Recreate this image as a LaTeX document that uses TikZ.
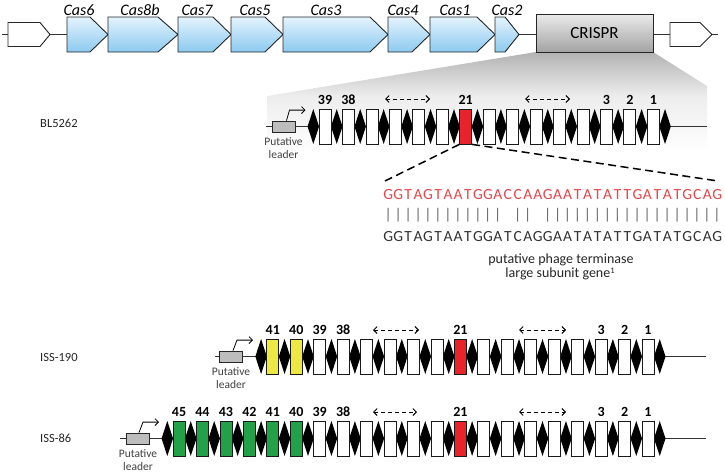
\documentclass[tikz,border=0pt]{standalone}
\usepackage{fontspec}
\setmainfont{Carlito}
\usetikzlibrary{arrows.meta}
\definecolor{genetop}{HTML}{E4F3FD}
\definecolor{genebot}{HTML}{8CCAF0}
\definecolor{spred}{HTML}{E8232B}
\definecolor{spyel}{HTML}{EEE842}
\definecolor{spgrn}{HTML}{22A148}
\definecolor{seqred}{HTML}{E2474B}
\definecolor{leadgray}{HTML}{BDBDBD}
\newcommand\gridseq[1]{\gridseqaux#1\relax}
\def\gridseqaux#1{\ifx#1\relax\else\makebox[9.97pt]{\if.#1\else#1\fi}\expandafter\gridseqaux\fi}
\newcommand\genearr[3]{\draw[genestyle] (#1,17) -- ({#2-#3},17) -- (#2,34.5) -- ({#2-#3},52) -- (#1,52) -- cycle;}
\newcommand\sprow[5]{%
  \foreach \k in {0,...,#3}
    \fill[black] ({#2+23.45*\k-5.75},#1) -- ({#2+23.45*\k},{#1-17.5}) -- ({#2+23.45*\k+5.75},#1) -- ({#2+23.45*\k},{#1+17.5}) -- cycle;
  \foreach \c [count=\i from 0] in {#5}
    \node[rep, fill=\c] (#4\i) at ({#2+11.725+23.45*\i},#1) {};
}
\begin{document}
\begin{tikzpicture}[x=1pt,y=-1pt,
  genestyle/.style={draw=black!85, line width=0.9pt, top color=genetop, bottom color=genebot},
  whitegene/.style={draw=black!85, line width=0.9pt, fill=white},
  caslab/.style={font=\fontsize{16}{16}\selectfont\itshape, inner sep=0pt},
  crisprbox/.style={draw=black!85, line width=0.9pt, top color=black!8, bottom color=black!36, minimum width=117pt, minimum height=38pt, inner sep=0pt, font=\fontsize{17}{17}\selectfont},
  rep/.style={draw=black!90, line width=0.8pt, minimum width=12pt, minimum height=35pt, inner sep=0pt},
  numlab/.style={font=\fontsize{14}{14}\selectfont\bfseries, inner sep=0pt, above=4pt},
  rowlab/.style={font=\fontsize{12.5}{13}\selectfont, anchor=west, text=black!85, inner sep=0pt},
  leadbox/.style={draw=black!85, fill=leadgray, line width=0.8pt, minimum width=23pt, minimum height=11pt, inner sep=0pt},
  leadtxt/.style={font=\fontsize{11.5}{13.5}\selectfont, align=center, text=black!75, inner sep=0pt, below=4.5pt},
  rowline/.style={line width=1pt, draw=black!80},
  bent/.style={-{Straight Barb[length=3.5pt,width=7pt]}, line width=0.8pt},
  gaparrow/.style={{Straight Barb[length=3.5pt,width=7pt]}-{Straight Barb[length=3.5pt,width=7pt]}, dash pattern=on 4pt off 3pt, line width=0.9pt},
  zoomline/.style={dash pattern=on 8pt off 4.5pt, line width=1.5pt},
  seqfont/.style={font=\fontsize{15.5}{16}\selectfont, anchor=west, inner sep=0pt},
  termtxt/.style={font=\fontsize{14}{14}\selectfont, text=black!85, inner sep=0pt, anchor=base}
]
\useasboundingbox (0,0) rectangle (725,474);

% ---- zoom panel ----
\begin{scope}
  \clip (536,52) -- (653,52) -- (707,86) -- (707,152) -- (267,152) -- (267,96) -- cycle;
  \shade[top color=black!30, bottom color=black!7] (260,52) rectangle (710,96);
  \shade[top color=black!7, bottom color=white] (260,96) rectangle (710,152);
\end{scope}

% ---- gene map ----
\coordinate (gl) at (2,34.5);
\coordinate (gr) at (718,34.5);
\draw[rowline, line width=0.9pt] (gl) -- (gr);
\draw[whitegene] (8,22.5) -- (40,22.5) -- (50,34.5) -- (40,46.5) -- (8,46.5) -- cycle;
\draw[whitegene] (670,22.5) -- (700,22.5) -- (712,34.5) -- (700,46.5) -- (670,46.5) -- cycle;
\genearr{67}{108}{18}
\genearr{108}{178}{20}
\genearr{178}{231}{18}
\genearr{231}{283}{18}
\genearr{283}{388}{18}
\genearr{388}{430}{18}
\genearr{430}{495}{18}
\genearr{495}{519}{14}
\node[caslab] (c6) at (79,10) {Cas6};
\node[caslab] (c8b) at (140,10) {Cas8b};
\node[caslab] (c7) at (197,10) {Cas7};
\node[caslab] (c5) at (255,10) {Cas5};
\node[caslab] (c3) at (326,10) {Cas3};
\node[caslab] (c4) at (403,10) {Cas4};
\node[caslab] (c1) at (455,10) {Cas1};
\node[caslab] (c2) at (507,10) {Cas2};
\node[crisprbox] (crispr) at (594.5,33) {CRISPR};

% ---- BL5262 ----
\node[rowlab] (lbl) at (40,123) {BL5262};
\coordinate (blL) at (266,126.5);
\coordinate (blR) at (707,126.5);
\draw[rowline] (blL) -- (blR);
\node[leadbox] (ldbl) at (283.5,126.5) {};
\draw[bent] ([xshift=3pt]ldbl.north) -- ++(3,-10.5) -- ++(16,0);
\node[leadtxt] (ldtbl) at (ldbl.south) {Putative\\leader};
\sprow{126.5}{313.3}{15}{bl}{white,white,white,white,white,white,spred,white,white,white,white,white,white,white,white}
\node[numlab] at (bl0.north) {39};
\node[numlab] at (bl1.north) {38};
\node[numlab] at (bl6.north) {21};
\node[numlab] at (bl12.north) {3};
\node[numlab] at (bl13.north) {2};
\node[numlab] at (bl14.north) {1};
\coordinate (bla1) at (385,99); \coordinate (blb1) at (430,99);
\coordinate (bla2) at (525,99); \coordinate (blb2) at (570,99);
\draw[gaparrow] (bla1) -- (blb1);
\draw[gaparrow] (bla2) -- (blb2);

% ---- zoom to sequence ----
\coordinate (seqL) at (385,181);
\coordinate (seqR) at (718,181);
\draw[zoomline] (bl6.south west) -- (seqL);
\draw[zoomline] (bl6.south east) -- (seqR);
\node[seqfont, text=seqred] (seqtop) at (383,195) {\gridseq{GGTAGTAATGGACCAAGAATATATTGATATGCAG}};
\node[seqfont, text=black!60] (seqbar) at (383,215) {\gridseq{||||||||||||.||.||||||||||||||||||}};
\node[seqfont, text=black!80] (seqbot) at (383,237) {\gridseq{GGTAGTAATGGATCAGGAATATATTGATATGCAG}};
\node[termtxt] (term1) at (561,263.5) {putative phage terminase};
\node[termtxt] (term2) at (560,277.5) {large subunit gene\raisebox{4pt}{\fontsize{8.5}{9}\selectfont 1}};

% ---- ISS-190 ----
\node[rowlab] (liss190) at (40,357) {ISS-190};
\coordinate (iaL) at (215,356.5);
\coordinate (iaR) at (706,356.5);
\draw[rowline] (iaL) -- (iaR);
\node[leadbox] (ldia) at (231,356.5) {};
\draw[bent] ([xshift=2pt]ldia.north) -- ++(4,-10.5) -- ++(16,0);
\node[leadtxt] (ldtia) at (ldia.south) {Putative\\leader};
\sprow{356.5}{261.1}{17}{ia}{spyel,spyel,white,white,white,white,white,white,spred,white,white,white,white,white,white,white,white}
\node[numlab] at (ia0.north) {41};
\node[numlab] at (ia1.north) {40};
\node[numlab] at (ia2.north) {39};
\node[numlab] at (ia3.north) {38};
\node[numlab] at (ia8.north) {21};
\node[numlab] at (ia14.north) {3};
\node[numlab] at (ia15.north) {2};
\node[numlab] at (ia16.north) {1};
\coordinate (iaa1) at (373,330); \coordinate (iab1) at (419,330);
\coordinate (iaa2) at (519,330); \coordinate (iab2) at (566,330);
\draw[gaparrow] (iaa1) -- (iab1);
\draw[gaparrow] (iaa2) -- (iab2);

% ---- ISS-86 ----
\node[rowlab] (liss86) at (40,438) {ISS-86};
\coordinate (ibL) at (120,438.5);
\coordinate (ibR) at (706,438.5);
\draw[rowline] (ibL) -- (ibR);
\node[leadbox] (ldib) at (138,438.5) {};
\draw[bent] ([xshift=1pt]ldib.north) -- ++(4,-10.5) -- ++(16,0);
\node[leadtxt] (ldtib) at (ldib.south) {Putative\\leader};
\sprow{438.5}{167.3}{21}{ib}{spgrn,spgrn,spgrn,spgrn,spgrn,spgrn,white,white,white,white,white,white,spred,white,white,white,white,white,white,white,white}
\node[numlab] at (ib0.north) {45};
\node[numlab] at (ib1.north) {44};
\node[numlab] at (ib2.north) {43};
\node[numlab] at (ib3.north) {42};
\node[numlab] at (ib4.north) {41};
\node[numlab] at (ib5.north) {40};
\node[numlab] at (ib6.north) {39};
\node[numlab] at (ib7.north) {38};
\node[numlab] at (ib12.north) {21};
\node[numlab] at (ib18.north) {3};
\node[numlab] at (ib19.north) {2};
\node[numlab] at (ib20.north) {1};
\coordinate (iba1) at (373,412); \coordinate (ibb1) at (417,412);
\coordinate (iba2) at (519,412); \coordinate (ibb2) at (566,412);
\draw[gaparrow] (iba1) -- (ibb1);
\draw[gaparrow] (iba2) -- (ibb2);
\end{tikzpicture}
\end{document}
